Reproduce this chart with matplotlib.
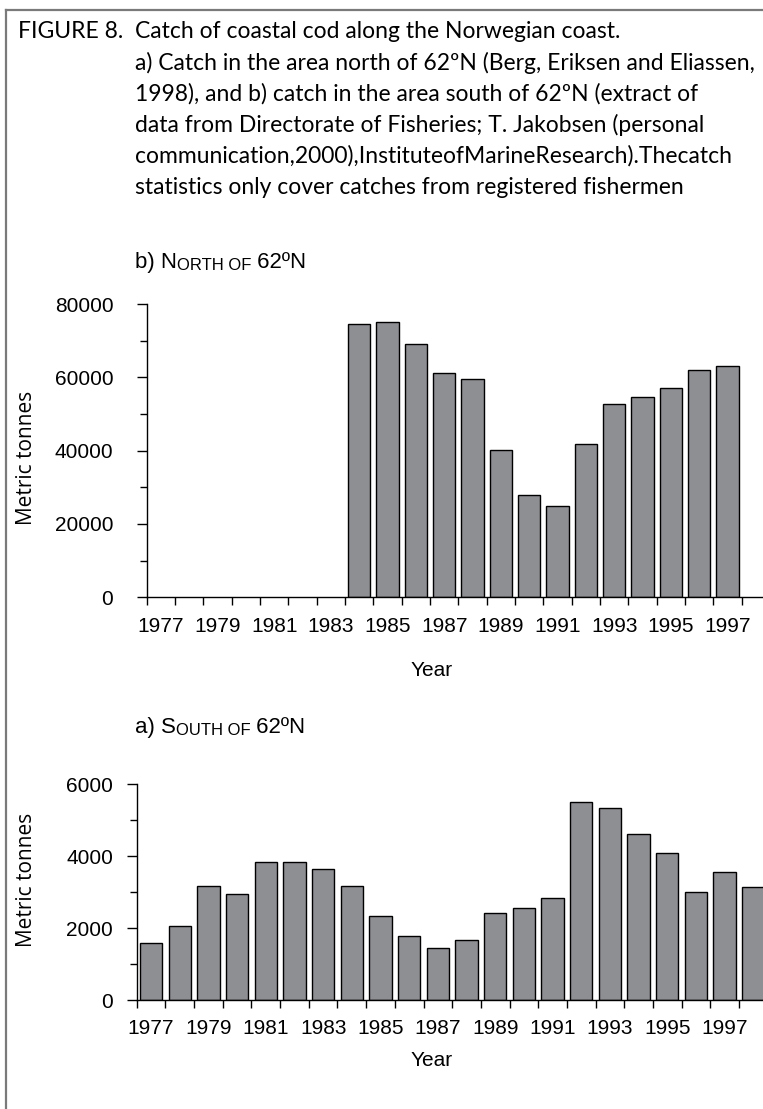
import matplotlib
matplotlib.use('Agg')
import matplotlib.pyplot as plt
import numpy as np
from matplotlib.lines import Line2D

# catch data, metric tonnes
years = list(range(1977, 1999))
north_years = list(range(1984, 1998))
north_catch = [74600, 75200, 69200, 61300, 59600, 40100, 28000, 25000,
               41900, 52800, 54600, 57100, 61900, 63100]
south_catch = [1590, 2060, 3180, 2960, 3850, 3850, 3650, 3180, 2330, 1780, 1440,
               1670, 2410, 2570, 2840, 5520, 5330, 4630, 4090, 3000, 3570, 3150]
year_labels = [str(y) for y in range(1977, 1998, 2)]

caption = [
    "a) Catch in the area north of 62ºN (Berg, Eriksen and Eliassen,",
    "1998), and b) catch in the area south of 62ºN (extract of",
    "data from Directorate of Fisheries; T. Jakobsen (personal",
    "communication,2000),InstituteofMarineResearch).Thecatch",
    "statistics only cover catches from registered fishermen",
]

W, H = 763, 1109
BAR = '#8e8f93'
NARROW = ['Liberation Sans', 'DejaVu Sans']
CAP_FONT = ['Lato', 'DejaVu Sans']
CAP_SIZE = 16.5

def fx(x):
    return x / W

def fy(y):
    return 1 - y / H

fig = plt.figure(figsize=(W / 100, H / 100), dpi=100)
fig.patch.set_facecolor('white')

# frame round the figure
fig.add_artist(Line2D([fx(6), fx(6)], [fy(10), fy(1120)], color='#7a7a7a', lw=1.6))
fig.add_artist(Line2D([fx(6), fx(780)], [fy(10), fy(10)], color='#7a7a7a', lw=1.6))

# caption
fig.text(fx(18), fy(32), "FIGURE 8.", fontsize=CAP_SIZE, family=CAP_FONT, va='center')
fig.text(fx(135), fy(32), "Catch of coastal cod along the Norwegian coast.",
         fontsize=CAP_SIZE, family=CAP_FONT, va='center')
for i, line in enumerate(caption):
    fig.text(fx(135), fy(63 + 31 * i), line, fontsize=CAP_SIZE, family=CAP_FONT, va='center')


def panel_title(x, y, big1, small, big2):
    t = fig.text(fx(x), fy(y), big1, fontsize=16, family=NARROW, va='baseline')
    t2 = fig.add_artist(plt.Annotation(small, xy=(1, 0), xycoords=t, va='bottom',
                                       fontsize=12, family=NARROW))
    t3 = fig.add_artist(plt.Annotation(big2, xy=(1, 0), xycoords=t2, va='bottom',
                                       fontsize=16, family=NARROW))
    return t3


def bar_panel(left, right, y0, ytop, vmax, step, values, idx, ypad):
    ax = fig.add_axes([fx(left), fy(y0), fx(right) - fx(left), fy(ytop) - fy(y0)])
    ax.bar(idx, values, width=0.78, color=BAR, edgecolor='black', linewidth=1.0)
    ax.set_xlim(-0.5, len(years) - 0.5)
    ax.set_ylim(0, vmax)
    for s in ['top', 'right']:
        ax.spines[s].set_visible(False)
    ax.spines['left'].set_linewidth(1.0)
    ax.spines['bottom'].set_linewidth(1.0)
    # ticks sit on the category boundaries, labels on every other year
    ax.set_xticks(np.arange(-0.5, len(years), 1.0))
    ax.set_xticklabels([])
    ax.set_xticks(np.arange(0, len(years) - 1, 2), minor=True)
    ax.set_xticklabels(year_labels, minor=True, fontsize=15, family=NARROW)
    ax.tick_params(axis='x', which='major', length=6, width=1, direction='out')
    ax.tick_params(axis='x', which='minor', length=0, pad=14)
    ax.set_yticks(np.arange(0, vmax + 1, step))
    ax.set_yticklabels([str(v) for v in range(0, vmax + 1, step)], fontsize=15, family=NARROW)
    ax.set_yticks(np.arange(step / 2, vmax, step), minor=True)
    ax.tick_params(axis='y', which='major', length=7, width=1, pad=ypad)
    ax.tick_params(axis='y', which='minor', length=5, width=1)
    return ax


# north of 62N
panel_title(135, 268, "b) N", "ORTH OF", " 62ºN")
north_idx = [years.index(y) for y in north_years]
ax1 = bar_panel(146.7, 770, 597.3, 304, 80000, 20000, north_catch, north_idx, 17)
fig.text(fx(27), fy(458), "Metric tonnes", rotation=90, fontsize=15, family=['Open Sans', 'DejaVu Sans'],
         va='center', ha='center')
fig.text(fx(432), fy(670), "Year", fontsize=15, family=NARROW, va='center', ha='center')

# south of 62N
panel_title(135, 733, "a) S", "OUTH OF", " 62ºN")
ax2 = bar_panel(136.7, 767.7, 1000, 784.3, 6000, 2000, south_catch, list(range(len(years))), 10)
fig.text(fx(27), fy(880), "Metric tonnes", rotation=90, fontsize=15, family=['Open Sans', 'DejaVu Sans'],
         va='center', ha='center')
fig.text(fx(432), fy(1061), "Year", fontsize=15, family=NARROW, va='center', ha='center')

fig.savefig('out.png', dpi=100)
